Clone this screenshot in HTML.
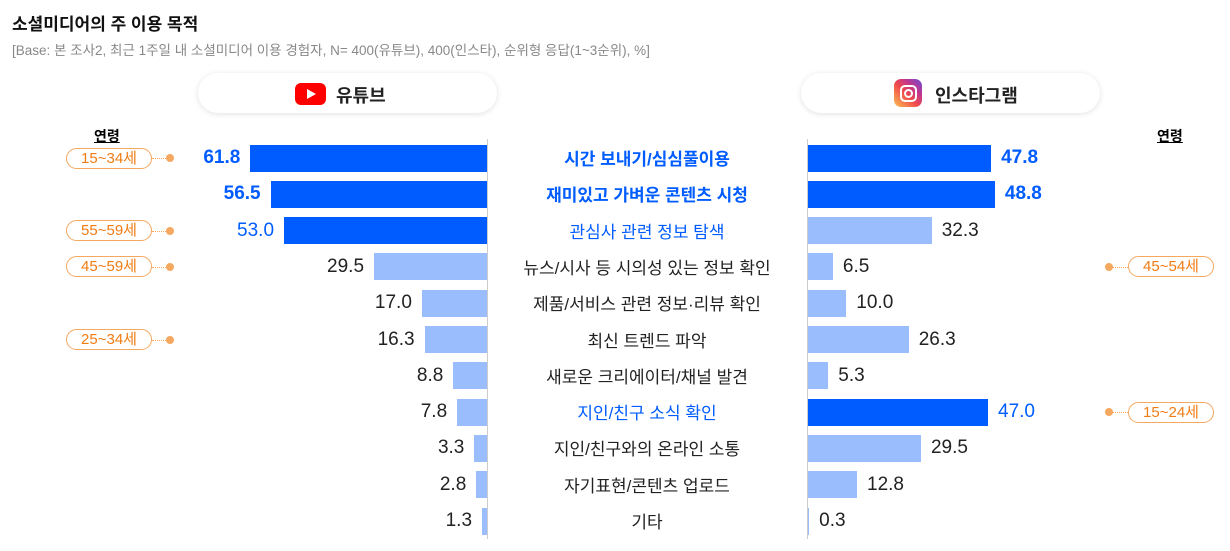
<!DOCTYPE html>
<html><head><meta charset="utf-8"><style>
body{margin:0;width:1230px;height:551px;background:#fff;font-family:"Liberation Sans","Noto Sans CJK KR",sans-serif;position:relative;overflow:hidden}
.a{position:absolute;white-space:nowrap}
.bar{position:absolute;height:27px}
.pill{position:absolute;width:84px;height:19px;border:1px solid #f5a860;border-radius:11px;color:#f07c14;font-size:15px;text-align:center;line-height:19px}
.dot{position:absolute;width:8px;height:8px;border-radius:50%;background:#f5a860}
.ln{position:absolute;width:16px;border-top:1px dotted #f5a860}
.hp{position:absolute;top:73px;width:299px;height:40px;border-radius:20px;background:#fff;box-shadow:0 1px 6px rgba(0,0,0,.12);font-size:18px;font-weight:bold;color:#222}
</style></head><body>
<div class="a" style="left:12px;top:10px;font-size:17px;font-weight:bold;color:#111">소셜미디어의 주 이용 목적</div>
<div class="a" style="left:12px;top:39px;font-size:13.5px;color:#888">[Base: 본 조사2, 최근 1주일 내 소셜미디어 이용 경험자, N= 400(유튜브), 400(인스타), 순위형 응답(1~3순위), %]</div>
<div class="hp" style="left:198px"><div style="position:absolute;left:97px;top:10px;width:31px;height:22px;background:#f00;border-radius:6px"></div><div style="position:absolute;left:109px;top:16px;width:0;height:0;border-left:9px solid #fff;border-top:5px solid transparent;border-bottom:5px solid transparent"></div><span class="a" style="left:138px;top:9px">유튜브</span></div>
<div class="hp" style="left:801px"><div style="position:absolute;left:93px;top:6px;width:28px;height:28px;border-radius:7px;background:linear-gradient(45deg,#fdc153,#f04a4a 45%,#c1368f 70%,#6a4cd1)"></div><div style="position:absolute;left:99px;top:12px;width:13px;height:13px;border:2px solid #fff;border-radius:5px"></div><div style="position:absolute;left:103px;top:16px;width:5px;height:5px;border:2px solid #fff;border-radius:50%"></div><span class="a" style="left:134px;top:9px">인스타그램</span></div>
<div class="a" style="left:94px;top:126px;font-size:14px;font-weight:bold;text-decoration:underline">연령</div>
<div class="a" style="left:1157px;top:126px;font-size:14px;font-weight:bold;text-decoration:underline">연령</div>
<div style="position:absolute;left:487px;top:139px;width:1px;height:400px;background:#ccc"></div>
<div style="position:absolute;left:807px;top:139px;width:1px;height:400px;background:#ccc"></div>
<div id="c"></div>
<script>
var d=[["시간 보내기/심심풀이용",61.8,47.8,2,2,"15~34세",""],["재미있고 가벼운 콘텐츠 시청",56.5,48.8,2,2,"",""],["관심사 관련 정보 탐색",53.0,32.3,1,0,"55~59세",""],["뉴스/시사 등 시의성 있는 정보 확인",29.5,6.5,0,0,"45~59세","45~54세"],["제품/서비스 관련 정보·리뷰 확인",17.0,10.0,0,0,"",""],["최신 트렌드 파악",16.3,26.3,0,0,"25~34세",""],["새로운 크리에이터/채널 발견",8.8,5.3,0,0,"",""],["지인/친구 소식 확인",7.8,47.0,0,1,"","15~24세"],["지인/친구와의 온라인 소통",3.3,29.5,0,0,"",""],["자기표현/콘텐츠 업로드",2.8,12.8,0,0,"",""],["기타",1.3,0.3,0,0,"",""]];
var h="",s=3.83;
d.forEach(function(r,i){var cy=158+i*36.3,t=cy-13.5;
var lw=r[1]*s,rw=r[2]*s;
var lc=r[3]?"#005cff":"#99bdfd",rc=r[4]?"#005cff":"#99bdfd";
h+='<div class="bar" style="left:'+(487-lw)+'px;top:'+t+'px;width:'+lw+'px;background:'+lc+'"></div>';
h+='<div class="bar" style="left:808px;top:'+t+'px;width:'+rw+'px;background:'+rc+'"></div>';
var st=function(k){return k==2?'color:#005cff;font-weight:bold;':k==1?'color:#005cff;':'color:#222;'};
h+='<div class="a" style="right:'+(1230-487+lw+10)+'px;top:'+(cy-11)+'px;font-size:19px;'+st(r[3])+'">'+r[1].toFixed(1)+'</div>';
h+='<div class="a" style="left:'+(808+rw+10)+'px;top:'+(cy-11)+'px;font-size:19px;'+st(r[4])+'">'+r[2].toFixed(1)+'</div>';
var cs=(r[3]==2||r[4]==2)?'color:#005cff;font-weight:bold;':(r[3]||r[4])?'color:#005cff;':'color:#222;';
h+='<div class="a" style="left:497px;width:300px;text-align:center;top:'+(cy-13)+'px;font-size:17px;'+cs+'">'+r[0]+'</div>';
if(r[5])h+='<div class="pill" style="left:66px;top:'+(cy-10.5)+'px">'+r[5]+'</div><div class="ln" style="left:152px;top:'+cy+'px"></div><div class="dot" style="left:166px;top:'+(cy-4)+'px"></div>';
if(r[6])h+='<div class="pill" style="left:1128px;top:'+(cy-10.5)+'px">'+r[6]+'</div><div class="ln" style="left:1112px;top:'+cy+'px"></div><div class="dot" style="left:1105px;top:'+(cy-4)+'px"></div>';
});
document.getElementById("c").innerHTML=h;
</script>
</body></html>
